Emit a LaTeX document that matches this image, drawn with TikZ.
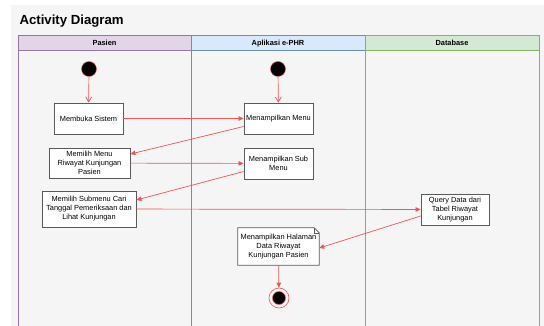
\documentclass[tikz,border=0pt]{standalone}
\usepackage{fontspec}
\setmainfont{Liberation Sans}
\usetikzlibrary{arrows.meta,positioning}

\definecolor{pageGray}{HTML}{F5F5F5}
\definecolor{flowRed}{HTML}{EE5555}
\definecolor{laneViolet}{HTML}{E1D5E7}
\definecolor{laneVioletLine}{HTML}{9673A6}
\definecolor{laneBlue}{HTML}{DAE8FC}
\definecolor{laneBlueLine}{HTML}{6C8EBF}
\definecolor{laneGreen}{HTML}{D5E8D4}
\definecolor{laneGreenLine}{HTML}{82B366}

\begin{document}
\begin{tikzpicture}[x=1pt,y=-1pt,>=Latex,font=\fontsize{7.4}{9}\selectfont]
    \tikzset{
        actBox/.style={draw=black!65,fill=white,line width=0.8pt,align=center,inner sep=2pt},
        startDot/.style={circle,draw=flowRed,fill=black,minimum size=15pt,inner sep=0pt},
        flow/.style={draw=flowRed,line width=0.7pt,-{Triangle[length=5pt,width=4.5pt]}},
        startFlow/.style={draw=flowRed,line width=0.7pt,-{Straight Barb[length=5pt,width=6pt]}},
        laneHead/.style={font=\fontsize{7.4}{9}\selectfont\bfseries,text height=5.5pt,text depth=0pt}
    }
    \useasboundingbox (0,0) rectangle (544,326);
    % Background
    \fill[white] (0,0) rectangle (544,326);
    \fill[pageGray] (11,5) rectangle (544,326);
    \node[anchor=west,font=\fontsize{13.2}{15}\selectfont\bfseries] (title) at (16,21) {Activity Diagram};
    % Lanes
    \draw[laneVioletLine,line width=0.8pt] (18,50) -- (18,326);
    \draw[laneBlueLine,line width=0.6pt] (191,50) -- (191,326);
    \draw[laneGreenLine,line width=0.6pt] (365,50) -- (365,326);
    \draw[laneGreenLine,line width=0.8pt] (539,50) -- (539,326);
    \draw[laneVioletLine,fill=laneViolet] (18,35) rectangle (191,50);
    \draw[laneBlueLine,fill=laneBlue] (191,35) rectangle (365,50);
    \draw[laneGreenLine,fill=laneGreen] (365,35) rectangle (539,50);
    \node[laneHead] (pasien) at (104.5,42.5) {Pasien};
    \node[laneHead] (aplikasi) at (278,42.5) {Aplikasi e-PHR};
    \node[laneHead] (database) at (452,42.5) {Database};
    % Start points
    \node[startDot] (startPasien) at (89,69) {};
    \node[startDot] (startApp) at (278,69) {};
    % Actions
    \node[actBox,minimum width=69pt,minimum height=31pt] (membuka) at (88.5,118.5) {Membuka Sistem};
    \node[actBox,minimum width=69pt,minimum height=31pt] (menu) at (278.5,118.5) {Menampilkan Menu};
    \node[actBox,minimum width=81pt,minimum height=30pt] (pilihMenu) at (89.5,163) {Memilih Menu\\Riwayat Kunjungan\\Pasien};
    \node[actBox,minimum width=69pt,minimum height=31pt] (subMenu) at (278.5,163.5) {Menampilkan Sub\\Menu};
    \node[actBox,minimum width=94pt,minimum height=36pt] (pilihSub) at (89,209) {Memilih Submenu Cari\\Tanggal Pemeriksaan dan\\Lihat Kunjungan};
    \node[actBox,minimum width=68pt,minimum height=31pt] (query) at (455,209.5) {Query Data dari\\Tabel Riwayat\\Kunjungan};
    \node[align=center,minimum width=81pt,minimum height=37pt,inner sep=2pt] (halaman) at (278.5,246.5) {};
    \draw[draw=black!65,fill=white,line width=0.8pt] (halaman.north west) -- ([xshift=-5pt]halaman.north east)
        -- ([yshift=-5pt]halaman.north east) -- (halaman.south east) -- (halaman.south west) -- cycle;
    \draw[draw=black!65,line width=0.5pt] ([xshift=-5pt]halaman.north east) -- ([xshift=-5pt,yshift=-5pt]halaman.north east)
        -- ([yshift=-5pt]halaman.north east);
    \node[align=center,inner sep=2pt] (halamanText) at (halaman.center) {Menampilkan Halaman\\Data Riwayat\\Kunjungan Pasien};
    % End point
    \node[circle,draw=flowRed,fill=pageGray,minimum size=20pt,inner sep=0pt,line width=0.6pt] (akhir) at (279,298) {};
    \node[circle,draw=flowRed,fill=black,minimum size=13pt,inner sep=0pt,line width=0.5pt] (akhirDot) at (akhir.center) {};
    % Flows
    \draw[startFlow] (startPasien) -- (membuka);
    \draw[startFlow] (startApp) -- (menu);
    \draw[flow] (membuka) -- (menu);
    \draw[flow] ([yshift=-8pt]menu.west) -- ([yshift=9pt]pilihMenu.east);
    \draw[flow] (pilihMenu) -- (subMenu);
    \draw[flow] ([yshift=-8pt]subMenu.west) -- ([yshift=9pt]pilihSub.east);
    \draw[flow] (pilihSub) -- (query);
    \draw[flow] ([yshift=-6.5pt]query.west) -- ([yshift=-1.5pt]halaman.east);
    \draw[flow] (halaman) -- (akhir);
\end{tikzpicture}
\end{document}
